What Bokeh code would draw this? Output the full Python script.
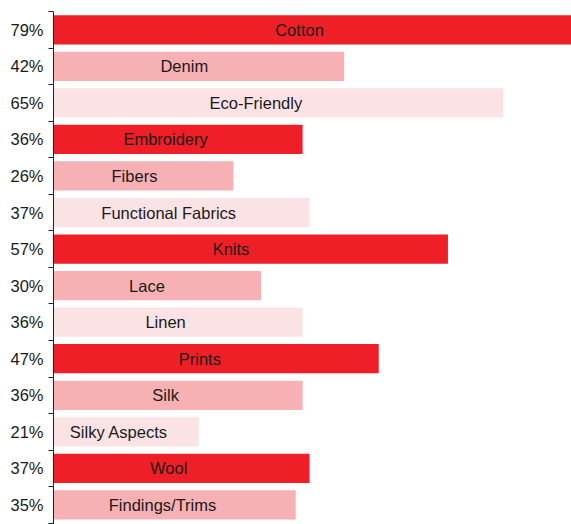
from bokeh.plotting import figure
from bokeh.models import ColumnDataSource, Range1d, FixedTicker
from bokeh.core.properties import value
from bokeh.embed import file_html
from bokeh.resources import INLINE

categories = ["Cotton", "Denim", "Eco-Friendly", "Embroidery", "Fibers",
              "Functional Fabrics", "Knits", "Lace", "Linen", "Prints",
              "Silk", "Silky Aspects", "Wool", "Findings/Trims"]
values = [79, 42, 65, 36, 26, 37, 57, 30, 36, 47, 36, 21, 37, 35]
palette = ["#EE1F26", "#F7B0B3", "#FBE3E5"]

n = len(categories)
ys = list(range(n))
colors = [palette[i % 3] for i in range(n)]
label_x = [v * 0.45 for v in values]
pct = [f"{v}%" for v in values]

src = ColumnDataSource(dict(y=ys, v=values, c=colors, cat=categories, lx=label_x))

W, H = 571, 524
LEFT, TOP = 53, 11
frame_w = W - LEFT
frame_h = H - TOP

p = figure(width=W, height=H, output_backend="svg", toolbar_location=None,
           x_range=Range1d(0, frame_w / 6.92), y_range=Range1d(-0.5 + frame_h / 36.55, -0.5),
           min_border_left=LEFT, min_border_right=0, min_border_top=TOP, min_border_bottom=0)

p.hbar(y="y", left=0, right="v", height=0.8, fill_color="c", line_color=None, source=src)
p.text(x="lx", y="y", text="cat", text_align="center", text_baseline="middle",
       text_font=value("Liberation Sans"), text_font_size="16.5px", text_color="#1a1a1a",
       source=src)

p.xaxis.visible = False
p.xgrid.visible = False
p.ygrid.visible = False
p.outline_line_color = None

ax = p.yaxis[0]
ax.ticker = FixedTicker(ticks=ys, minor_ticks=[i - 0.5 for i in range(n + 1)])
ax.major_label_overrides = {i: pct[i] for i in range(n)}
ax.major_tick_out = 0
ax.major_tick_in = 0
ax.minor_tick_out = 5
ax.minor_tick_in = 0
ax.minor_tick_line_color = "#222222"
ax.axis_line_color = "#222222"
ax.major_label_standoff = 5
ax.major_label_text_font = "Liberation Sans"
ax.major_label_text_font_size = "16.5px"
ax.major_label_text_color = "#1a1a1a"

open("out.html", "w").write(file_html(p, INLINE))
